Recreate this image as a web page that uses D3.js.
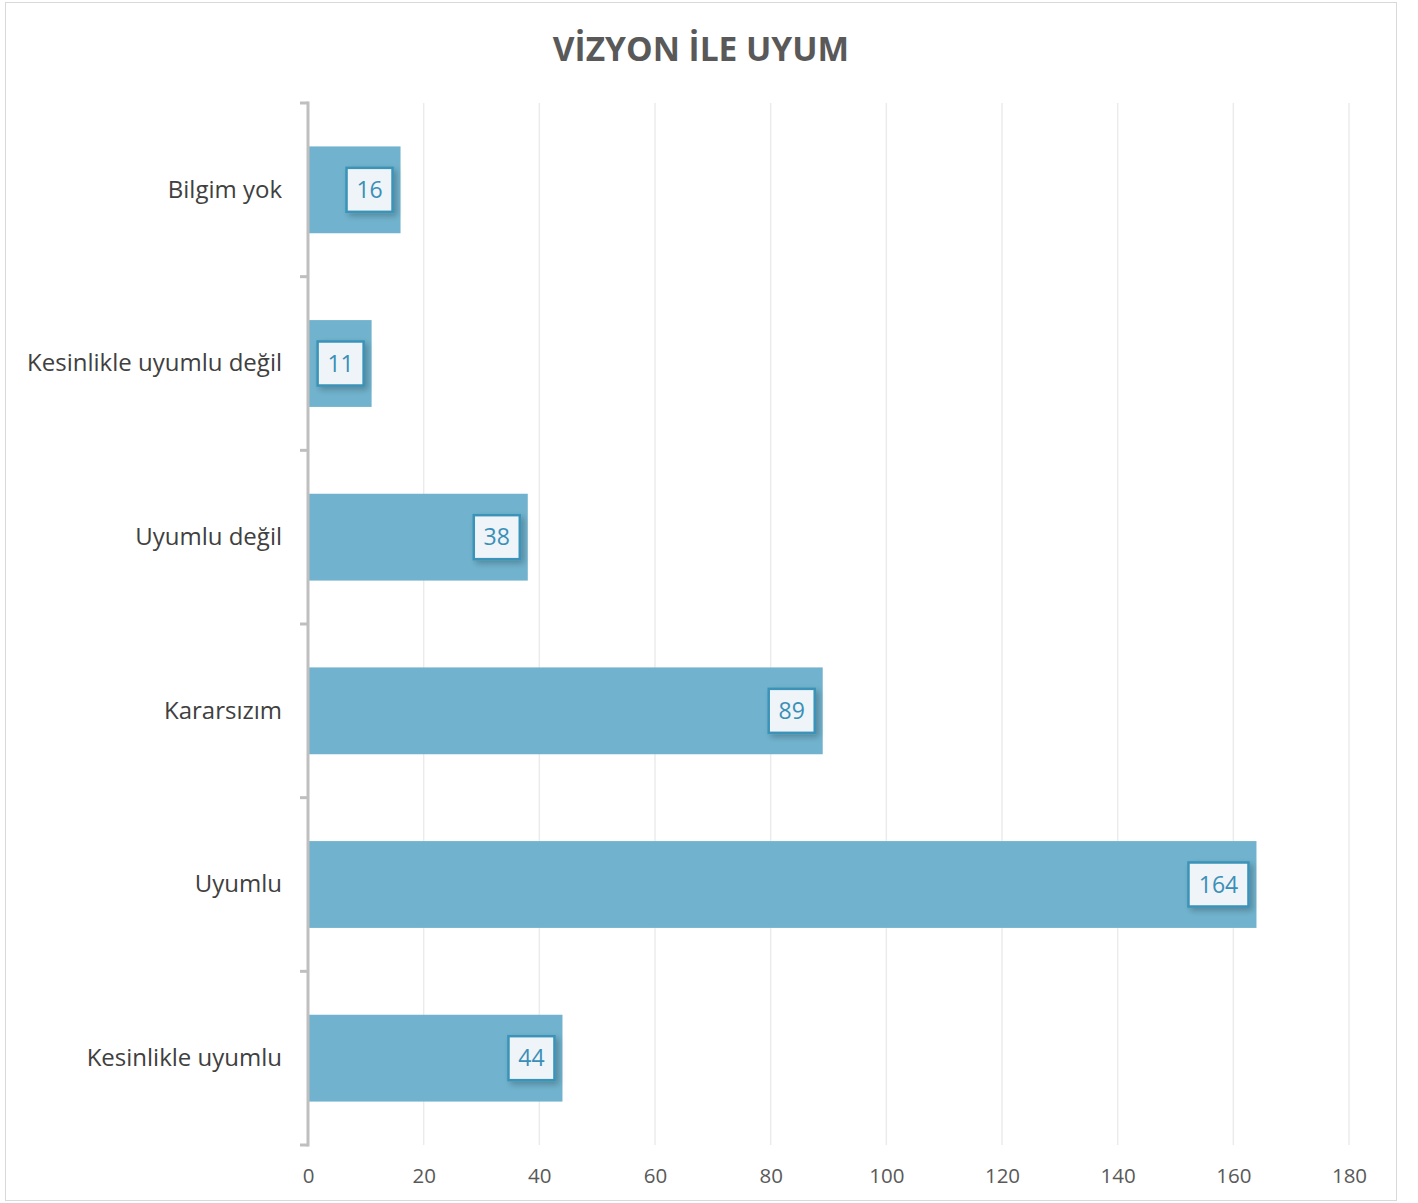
<!DOCTYPE html>
<html><head><meta charset="utf-8">
<script src="https://cdn.jsdelivr.net/npm/d3@7"></script>
<style>body{margin:0;background:#fff}svg{display:block}</style>
</head><body>
<script>
const categories = ["Bilgim yok","Kesinlikle uyumlu değil","Uyumlu değil","Kararsızım","Uyumlu","Kesinlikle uyumlu"];
const values = [16,11,38,89,164,44];
const xTicks = [0,20,40,60,80,100,120,140,160,180];
const title = "VİZYON İLE UYUM";

const W=1418,H=1203;
const font = "'Open Sans', 'Noto Sans', sans-serif";
const svg = d3.select("body").append("svg").attr("width",W).attr("height",H);
const defs = svg.append("defs");
const f = defs.append("filter").attr("id","sh").attr("x","-30%").attr("y","-30%").attr("width","170%").attr("height","170%");
f.append("feDropShadow").attr("dx",3).attr("dy",3).attr("stdDeviation",3).attr("flood-color","#000").attr("flood-opacity",0.25);

svg.append("rect").attr("x",5.5).attr("y",2.5).attr("width",1391).attr("height",1198).attr("fill","#fff").attr("stroke","#d9d9d9").attr("stroke-width",1);

const L=308,R=1349,T=103,B=1145;
const x = d3.scaleLinear().domain([0,180]).range([L,R]);
const y = d3.scaleBand().domain(categories).range([T,B]).paddingInner(0.5).paddingOuter(0.25);

svg.append("text").attr("x",701).attr("y",61).attr("text-anchor","middle")
  .attr("font-family",font).attr("font-weight","bold").attr("font-size",33.5).attr("fill","#595959").text(title);

// grid
svg.append("g").selectAll("line").data(xTicks.slice(1)).join("line")
  .attr("x1",d=>x(d)).attr("x2",d=>x(d)).attr("y1",T).attr("y2",B)
  .attr("stroke","#ebebeb").attr("stroke-width",1.5);

// bars
svg.append("g").selectAll("rect").data(values).join("rect")
  .attr("x",x(0)).attr("y",(d,i)=>y(categories[i])).attr("width",d=>x(d)-x(0)).attr("height",y.bandwidth())
  .attr("fill","#71b3ce");

// y axis
const yAxis = d3.axisLeft(y).tickSize(0).tickPadding(26).tickSizeOuter(0);
const yg = svg.append("g").attr("transform",`translate(${L},0)`).call(yAxis);
yg.select(".domain").remove();
yg.selectAll("text").attr("font-family",font).attr("font-size",24).attr("fill","#404040");
const boundaries = d3.range(categories.length+1).map(i=>T+i*(B-T)/categories.length);
svg.append("g").selectAll("line").data(boundaries).join("line")
  .attr("x1",L-8).attr("x2",L).attr("y1",d=>d).attr("y2",d=>d).attr("stroke","#bfbfbf").attr("stroke-width",3);
svg.append("line").attr("x1",L).attr("x2",L).attr("y1",T-1.5).attr("y2",B+1.5).attr("stroke","#bfbfbf").attr("stroke-width",3);

// x axis labels
const xAxis = d3.axisBottom(x).tickValues(xTicks).tickSize(0).tickPadding(0);
const xg = svg.append("g").attr("transform",`translate(0,${B+23})`).call(xAxis);
xg.select(".domain").remove();
xg.selectAll("text").attr("font-family",font).attr("font-size",20.5).attr("fill","#595959").attr("dy","0.71em");

// data labels
const lg = svg.append("g");
values.forEach((v,i)=>{
  const txt = String(v);
  const bw = txt.length===3 ? 60 : 46;
  const bh = 44;
  const cx = x(v)-8-bw/2;
  const cy = y(categories[i])+y.bandwidth()/2;
  lg.append("rect").attr("x",cx-bw/2).attr("y",cy-bh/2).attr("width",bw).attr("height",bh)
    .attr("fill","#eef4f8").attr("stroke","#3a93b8").attr("stroke-width",2.5).attr("filter","url(#sh)");
  lg.append("text").attr("x",cx).attr("y",cy).attr("dy","0.36em").attr("text-anchor","middle")
    .attr("font-family",font).attr("font-size",23).attr("fill","#3a8fb7").text(txt);
});
</script>
</body></html>
